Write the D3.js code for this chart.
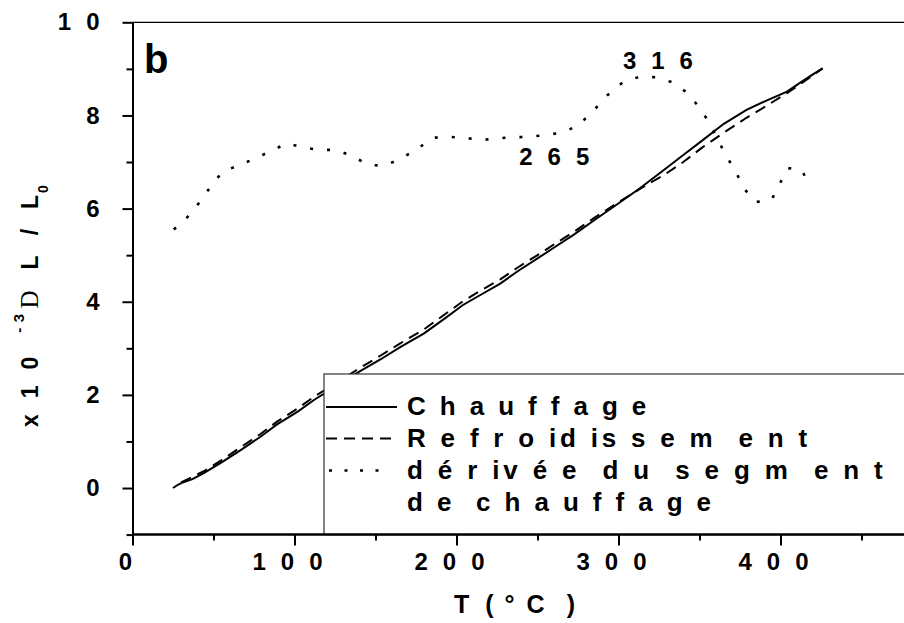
<!DOCTYPE html>
<html><head><meta charset="utf-8">
<script src="https://cdn.jsdelivr.net/npm/d3@7"></script>
<style>
body{margin:0;background:#fff;}
svg{display:block;}
text{font-family:"Liberation Sans",Arial,sans-serif;font-weight:bold;fill:#000;}
</style>
</head><body>
<svg id="c" width="904" height="623"></svg>
<script>
// ---- data ----
const heatT = [25, 28, 31, 37, 44, 55, 67, 79, 89, 102, 112, 125, 140, 153, 165, 180, 192, 204, 215, 227, 238, 250, 261, 272, 285, 297, 313, 328, 340, 352, 365, 379, 392, 404, 412, 420, 426];
const heatV = [0, 0.07, 0.12, 0.19, 0.32, 0.55, 0.82, 1.10, 1.36, 1.64, 1.89, 2.17, 2.50, 2.76, 3.02, 3.32, 3.62, 3.93, 4.15, 4.39, 4.66, 4.93, 5.18, 5.43, 5.75, 6.04, 6.43, 6.83, 7.15, 7.47, 7.82, 8.12, 8.33, 8.51, 8.70, 8.88, 9.01];
const coolT = [30, 44, 55, 67, 79, 89, 102, 112, 125, 140, 153, 165, 180, 192, 204, 215, 227, 238, 250, 261, 272, 285, 297, 313, 328, 340, 352, 365, 379, 392, 404, 415, 426];
const coolV = [0.12, 0.36, 0.60, 0.88, 1.16, 1.42, 1.71, 1.96, 2.24, 2.57, 2.84, 3.10, 3.41, 3.71, 4.01, 4.24, 4.48, 4.74, 5.00, 5.25, 5.49, 5.80, 6.07, 6.42, 6.72, 7.00, 7.32, 7.63, 7.95, 8.22, 8.48, 8.74, 9.01];
const derivT = [25.5, 34, 41.5, 48, 55.5, 65.5, 75.5, 85.5, 95.5, 105.5, 115.5, 125.5, 135.5, 145.5, 155.5, 165.5, 175.5, 185, 195, 205, 215, 225, 235, 245, 255, 265, 275, 284.5, 293, 303, 313, 323, 332.5, 342, 349.5, 356, 361, 366.5, 372.5, 377, 384.5, 394.5, 399.5, 404.5, 413, 418.5];
const derivV = [5.55, 5.82, 6.14, 6.46, 6.79, 6.93, 7.07, 7.24, 7.40, 7.31, 7.26, 7.26, 7.13, 6.94, 6.92, 7.07, 7.27, 7.52, 7.54, 7.52, 7.47, 7.51, 7.53, 7.54, 7.58, 7.63, 7.78, 8.10, 8.43, 8.72, 8.83, 8.82, 8.72, 8.50, 8.19, 7.85, 7.50, 7.13, 6.79, 6.45, 6.14, 6.19, 6.53, 6.87, 6.83, 6.47];
const xMajor = [0, 100, 200, 300, 400];
const xMinor = [50, 150, 250, 350, 450];
const yMajor = [0, 2, 4, 6, 8, 10];
const yMinor = [-1, 1, 3, 5, 7, 9];
const legendLabels = ["C h a u f f a g e", "R e f r o id is s e m  e n t", "d é r iv é e  d u  s e g m  e n t", "d e  c h a u f f a g e"];
const annotT = [265, 316];
const annotText = ["265", "316"];

// ---- scales ----
const svg = d3.select("#c");
const x = d3.scaleLinear().domain([0, 500]).range([132.5, 942.5]);
const y = d3.scaleLinear().domain([-1, 10]).range([534.6, 22.3]);

// layers (drawing order)
const gFrame = svg.append("g");
const gSeries = svg.append("g");
const gLegend = svg.append("g");
const gAxes = svg.append("g");
const gText = svg.append("g");

// top frame line
gFrame.append("line").attr("x1", x(0)).attr("x2", 904).attr("y1", y(10)).attr("y2", y(10))
  .attr("stroke", "#000").attr("stroke-width", 1.3);

// ---- series ----
const line = d3.line().x(d => x(d[0])).y(d => y(d[1]));
gSeries.append("path").datum(heatT.map((t, i) => [t, heatV[i]])).attr("d", line)
  .attr("fill", "none").attr("stroke", "#000").attr("stroke-width", 2);
gSeries.append("path").datum(coolT.map((t, i) => [t, coolV[i]])).attr("d", line)
  .attr("fill", "none").attr("stroke", "#000").attr("stroke-width", 2).attr("stroke-dasharray", "11,7");
gSeries.append("path").datum(derivT.map((t, i) => [t, derivV[i]])).attr("d", line)
  .attr("fill", "none").attr("stroke", "#000").attr("stroke-width", 2.6).attr("stroke-dasharray", "3,14");

// annotations
const derivAt = t => d3.scaleLinear().domain(derivT).range(derivV)(t);
gText.append("text").attr("x", x(annotT[0])).attr("y", y(derivAt(annotT[0])) + 32)
  .attr("text-anchor", "middle").attr("font-size", 24).attr("letter-spacing", 15).text(annotText[0]);
gText.append("text").attr("x", x(annotT[1]) + 21).attr("y", y(derivAt(annotT[1])) - 8)
  .attr("text-anchor", "middle").attr("font-size", 24).attr("letter-spacing", 15).text(annotText[1]);

// panel letter
gText.append("text").attr("x", 144).attr("y", 73).attr("font-size", 40).text("b");

// ---- legend ----
gLegend.append("rect").attr("x", 324).attr("y", 374).attr("width", 700).attr("height", y(-1) - 374)
  .attr("fill", "#fff").attr("stroke", "#333").attr("stroke-width", 1.2);
const sampleY = [407, 438.5, 470.5];
const dashes = [null, "11,7", "3,12.5"];
const widths = [2, 2, 2.6];
const x1s = [326, 326, 329];
const x2s = [397, 397, 380];
sampleY.forEach((ly, i) => {
  gLegend.append("line").attr("x1", x1s[i]).attr("x2", x2s[i]).attr("y1", ly).attr("y2", ly)
    .attr("stroke", "#000").attr("stroke-width", widths[i]).attr("stroke-dasharray", dashes[i]);
});
const legSpacing = [3.4, 3.8, 3.85, 3.4];
[415, 446.5, 479, 511].forEach((by, i) => {
  gLegend.append("text").attr("x", 407).attr("y", by).attr("font-size", 26).attr("letter-spacing", legSpacing[i])
    .attr("xml:space", "preserve").style("white-space", "pre").text(legendLabels[i]);
});

// ---- axes ----
function styleAxis(g) {
  g.selectAll("path.domain").attr("stroke-width", 2);
  g.selectAll(".tick line").attr("stroke-width", 2);
  g.selectAll("text").attr("font-size", 24).attr("letter-spacing", 15)
    .attr("font-family", "Liberation Sans, Arial, sans-serif").attr("font-weight", "bold");
}
const gy = gAxes.append("g").attr("transform", `translate(${x(0)},0)`);
gy.call(d3.axisLeft(y).tickValues(yMinor).tickSize(6).tickSizeOuter(0).tickFormat(""));
gy.append("g").call(d3.axisLeft(y).tickValues(yMajor).tickSize(10).tickPadding(8).tickSizeOuter(0).tickFormat(d3.format("d")));
styleAxis(gy);

const gx = gAxes.append("g").attr("transform", `translate(0,${y(-1)})`);
gx.call(d3.axisBottom(x).tickValues(xMinor).tickSize(6).tickSizeOuter(0).tickFormat(""));
gx.append("g").call(d3.axisBottom(x).tickValues(xMajor).tickSize(11).tickPadding(7).tickSizeOuter(0).tickFormat(d3.format("d")));
gx.selectAll("path.domain").attr("d", `M${x(0)},0H904`);
styleAxis(gx);

// ---- axis titles ----
const xt = gText.append("text").attr("x", 454).attr("y", 613).attr("font-size", 25);
xt.append("tspan").attr("letter-spacing", 16).text("T");
xt.append("tspan").attr("letter-spacing", 11).text("(");
xt.append("tspan").attr("letter-spacing", 12).text("°");
xt.append("tspan").attr("letter-spacing", 22).text("C");
xt.append("tspan").text(")");

const yt = gText.append("text").attr("transform", "translate(38,427) rotate(-90)").attr("font-size", 23);
yt.append("tspan").attr("letter-spacing", 16).text("x10");
yt.append("tspan").attr("font-size", 15).attr("dx", 8).attr("dy", -14).attr("letter-spacing", 5.4).text("-3");
yt.append("tspan").attr("dy", 14).attr("font-family", "Liberation Serif, serif").attr("font-weight", "normal").attr("font-size", 25).attr("letter-spacing", 21).text("D");
yt.append("tspan").attr("letter-spacing", 20).text("L/");
yt.append("tspan").attr("letter-spacing", 2).text("L");
yt.append("tspan").attr("font-size", 14).attr("dy", 10).text("0");
</script>
</body></html>
